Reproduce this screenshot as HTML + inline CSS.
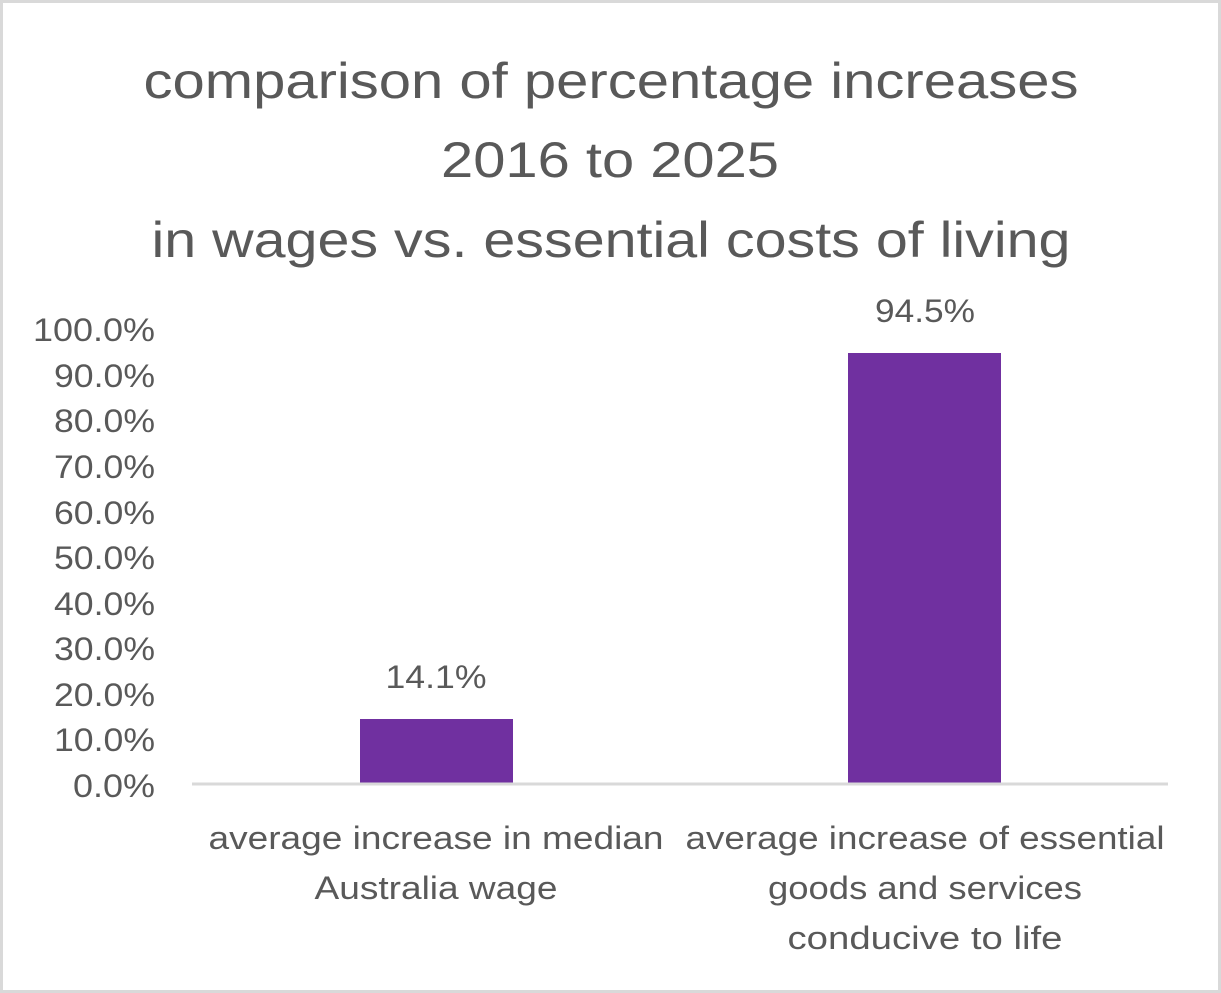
<!DOCTYPE html>
<html><head><meta charset="utf-8"><style>
html,body{margin:0;padding:0;background:#fff}
svg{display:block}
text{font-family:"Liberation Sans",sans-serif;fill:#595959}
</style></head><body>
<svg width="1221" height="993" viewBox="0 0 1221 993" xmlns="http://www.w3.org/2000/svg">
<rect x="1.5" y="1.5" width="1218" height="990" fill="#fff" stroke="#d9d9d9" stroke-width="3"/>
<g font-size="50" text-anchor="middle">
<text x="611" y="98" textLength="935" lengthAdjust="spacingAndGlyphs">comparison of percentage increases</text>
<text x="610" y="177" textLength="338" lengthAdjust="spacingAndGlyphs">2016 to 2025</text>
<text x="611" y="257" textLength="919" lengthAdjust="spacingAndGlyphs">in wages vs. essential costs of living</text>
</g>
<g font-size="32" text-anchor="end" lengthAdjust="spacingAndGlyphs">
<text x="155" y="797" textLength="82" lengthAdjust="spacingAndGlyphs">0.0%</text>
<text x="155" y="751" textLength="101" lengthAdjust="spacingAndGlyphs">10.0%</text>
<text x="155" y="706" textLength="101" lengthAdjust="spacingAndGlyphs">20.0%</text>
<text x="155" y="660" textLength="101" lengthAdjust="spacingAndGlyphs">30.0%</text>
<text x="155" y="615" textLength="101" lengthAdjust="spacingAndGlyphs">40.0%</text>
<text x="155" y="569" textLength="101" lengthAdjust="spacingAndGlyphs">50.0%</text>
<text x="155" y="524" textLength="101" lengthAdjust="spacingAndGlyphs">60.0%</text>
<text x="155" y="478" textLength="101" lengthAdjust="spacingAndGlyphs">70.0%</text>
<text x="155" y="432" textLength="101" lengthAdjust="spacingAndGlyphs">80.0%</text>
<text x="155" y="387" textLength="101" lengthAdjust="spacingAndGlyphs">90.0%</text>
<text x="155" y="341" textLength="122" lengthAdjust="spacingAndGlyphs">100.0%</text>
</g>
<rect x="360" y="719" width="153" height="64" fill="#7030a0"/>
<rect x="848" y="353" width="153" height="430" fill="#7030a0"/>
<line x1="192" y1="784" x2="1168" y2="784" stroke="#d9d9d9" stroke-width="3"/>
<g font-size="32" text-anchor="middle">
<text x="436" y="688" textLength="101" lengthAdjust="spacingAndGlyphs">14.1%</text>
<text x="925" y="322" textLength="100" lengthAdjust="spacingAndGlyphs">94.5%</text>
<text x="436" y="849" textLength="455" lengthAdjust="spacingAndGlyphs">average increase in median</text>
<text x="436" y="899" textLength="243" lengthAdjust="spacingAndGlyphs">Australia wage</text>
<text x="925" y="849" textLength="479" lengthAdjust="spacingAndGlyphs">average increase of essential</text>
<text x="925" y="899" textLength="314" lengthAdjust="spacingAndGlyphs">goods and services</text>
<text x="925" y="949" textLength="275" lengthAdjust="spacingAndGlyphs">conducive to life</text>
</g>
</svg>
</body></html>
